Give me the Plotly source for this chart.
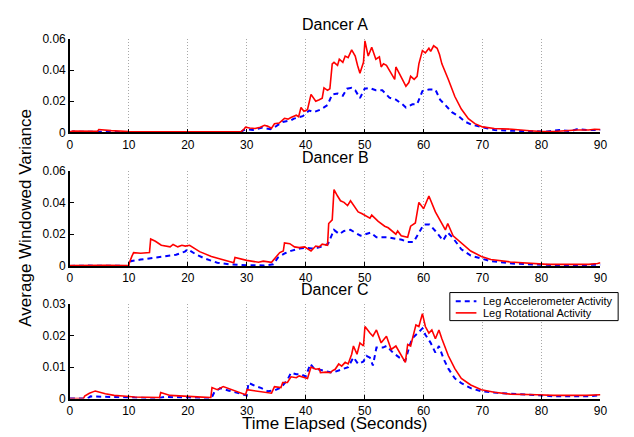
import plotly.graph_objects as go

# ---------------- data ----------------
a_red_t = [0, 0.5, 4.7, 4.9, 7, 10, 15, 20, 25, 29, 29.5, 29.8, 30.5, 31.4, 32.3, 33, 33.5, 34.2, 34.7, 35.5, 36.4, 37, 37.5, 38.4, 38.8, 39.2, 39.7, 40.3, 40.9, 41.7, 42.3, 42.8, 43.1, 43.7, 44.1, 44.5, 44.8, 45.4, 45.7, 46.3, 46.7, 47.2, 47.8, 48.4, 48.8, 49.2, 49.8, 50.05, 50.6, 51.2, 51.9, 52.5, 52.8, 53.2, 53.7, 54.2, 54.8, 55.1, 55.3, 55.9, 56.4, 57, 57.5, 57.8, 58.4, 58.9, 59.2, 59.8, 60.3, 60.9, 61.2, 61.7, 62.3, 62.7, 63.1, 64.2, 65.3, 66.4, 67.6, 68.7, 70, 72, 75, 78, 80, 82, 83, 84, 86, 88, 89, 90]
a_red_v = [0.0003, 0.0008, 0.0007, 0.0018, 0.0011, 0.0005, 0.0003, 0.0002, 0.0002, 0.0003, 0.002, 0.0033, 0.0028, 0.0025, 0.0033, 0.0045, 0.004, 0.0027, 0.0055, 0.006, 0.009, 0.0085, 0.0095, 0.011, 0.01, 0.016, 0.0135, 0.0145, 0.0244, 0.020, 0.021, 0.022, 0.0286, 0.027, 0.028, 0.044, 0.045, 0.043, 0.047, 0.045, 0.049, 0.048, 0.053, 0.049, 0.043, 0.038, 0.045, 0.0588, 0.049, 0.0546, 0.047, 0.0485, 0.042, 0.044, 0.043, 0.040, 0.036, 0.034, 0.042, 0.038, 0.034, 0.0296, 0.032, 0.036, 0.034, 0.036, 0.044, 0.0525, 0.051, 0.054, 0.052, 0.0556, 0.054, 0.050, 0.044, 0.034, 0.023, 0.015, 0.0088, 0.0056, 0.0035, 0.0025, 0.002, 0.001, 0.0005, 0.0005, 0.0008, 0.001, 0.0015, 0.0015, 0.002, 0.0018]

a_blue_t = [0, 0.5, 3, 5, 10, 20, 29, 29.5, 30, 31, 32.5, 34, 35, 36.1, 37.5, 38, 39.5, 40.6, 41.4, 42.5, 43.7, 44.5, 45.4, 46.3, 47, 47.8, 48.4, 49.2, 50, 50.8, 51.9, 53, 54.2, 55.3, 56.4, 57, 58.1, 58.9, 59.8, 60.9, 62, 62.8, 63.7, 64.8, 65.9, 67, 68.1, 69.2, 70, 72, 75, 80, 81, 83, 84, 85, 86, 88, 90]
a_blue_v = [0, 0.0005, 0.0004, 0.0003, 0.0001, 0, 0.0001, 0.0015, 0.002, 0.0015, 0.003, 0.002, 0.004, 0.0067, 0.0077, 0.0088, 0.0104, 0.014, 0.013, 0.0146, 0.0175, 0.0244, 0.025, 0.0235, 0.028, 0.0286, 0.027, 0.022, 0.028, 0.0285, 0.027, 0.027, 0.0223, 0.021, 0.018, 0.016, 0.018, 0.018, 0.0265, 0.0275, 0.0275, 0.021, 0.0175, 0.013, 0.0105, 0.0069, 0.005, 0.004, 0.003, 0.0015, 0.001, 0.0008, 0.0005, 0.0015, 0.001, 0.0008, 0.002, 0.0015, 0.0015]

b_red_t = [0, 3, 3.3, 6, 10, 10.05, 10.5, 10.8, 12, 13.5, 13.7, 14.5, 15.5, 16.5, 17, 17.5, 18.3, 19, 19.6, 20.3, 21, 22, 24, 26, 27.8, 28, 30, 32, 32.8, 34.2, 34.7, 35.6, 36.2, 36.4, 37.3, 38.1, 38.9, 39.8, 40.9, 41.7, 42.3, 42.8, 43.7, 43.9, 44.5, 44.8, 45.4, 45.9, 46.5, 47.1, 47.6, 48.2, 48.9, 49.5, 50, 50.9, 51.2, 52.3, 53.4, 54, 55.3, 55.6, 56.2, 57.3, 57.8, 58.6, 59.2, 60, 60.9, 62, 63.7, 64.1, 65, 66.4, 68, 69.8, 71.4, 74.7, 78, 81, 85, 88, 89.5, 90]
b_red_v = [0.0002, 0.0003, 0.0007, 0.0004, 0.0002, 0.0015, 0.006, 0.0084, 0.008, 0.0085, 0.017, 0.0155, 0.013, 0.0125, 0.012, 0.0135, 0.012, 0.013, 0.0125, 0.013, 0.0115, 0.009, 0.006, 0.004, 0.002, 0.0053, 0.0035, 0.0023, 0.003, 0.0023, 0.0043, 0.0084, 0.0094, 0.0145, 0.014, 0.012, 0.0115, 0.012, 0.0094, 0.0125, 0.012, 0.0137, 0.013, 0.0267, 0.029, 0.048, 0.044, 0.041, 0.040, 0.038, 0.041, 0.038, 0.034, 0.033, 0.032, 0.030, 0.032, 0.028, 0.025, 0.024, 0.020, 0.022, 0.019, 0.018, 0.025, 0.027, 0.040, 0.036, 0.044, 0.034, 0.0227, 0.0267, 0.019, 0.0145, 0.0094, 0.006, 0.004, 0.0025, 0.0015, 0.001, 0.001, 0.001, 0.0015, 0.002]

b_blue_t = [0, 3, 10, 10.3, 12, 14.3, 16.5, 18, 19.5, 20, 21.5, 23, 25, 27, 30, 33, 34.5, 35.3, 36.5, 37.5, 39, 40, 41, 42, 43, 43.8, 44.8, 45.7, 46.5, 47.6, 49.3, 50.4, 51, 52, 54, 55.4, 56.3, 57.3, 58.3, 59, 60, 61, 62, 63.3, 64.1, 65, 66.4, 68, 69.8, 71.4, 75, 80, 85, 90]
b_blue_v = [0, 0.0002, 0, 0.003, 0.004, 0.005, 0.006, 0.007, 0.009, 0.0105, 0.007, 0.0045, 0.002, 0.001, 0.0005, 0.0003, 0.001, 0.0053, 0.008, 0.0095, 0.011, 0.0115, 0.011, 0.0115, 0.0125, 0.014, 0.0227, 0.020, 0.022, 0.0227, 0.019, 0.0206, 0.021, 0.018, 0.018, 0.017, 0.0165, 0.015, 0.015, 0.0195, 0.026, 0.026, 0.022, 0.016, 0.021, 0.0175, 0.0105, 0.0065, 0.0045, 0.003, 0.0015, 0.0007, 0.0005, 0.0008]

c_red_t = [0, 2.3, 2.5, 3.3, 4, 4.3, 6, 7.5, 9, 11, 15.2, 15.4, 17, 20, 23.9, 24.1, 25, 26, 28, 29.8, 30.05, 31.4, 33, 34.2, 34.7, 35.8, 36.1, 36.9, 37.5, 38.4, 38.9, 39.8, 40.3, 40.9, 41.7, 42.3, 42.5, 43.4, 44.2, 44.5, 45, 45.6, 46.1, 46.7, 47.2, 47.8, 48.1, 48.7, 49.2, 49.8, 50.05, 50.9, 51.4, 52, 52.8, 53.7, 54.5, 55.3, 56.2, 56.9, 57.3, 57.8, 58.7, 59.2, 59.8, 60.3, 60.9, 61.4, 62, 62.6, 63.1, 64.2, 65.3, 66.4, 68, 69.8, 72, 74.7, 79.2, 82, 87.6, 90]
c_red_v = [0, 0, 0.0008, 0.0017, 0.0022, 0.0024, 0.0015, 0.001, 0.0008, 0.0005, 0.0003, 0.0019, 0.001, 0.0006, 0.0003, 0.0035, 0.0028, 0.0038, 0.0025, 0.0012, 0.0028, 0.0025, 0.002, 0.0017, 0.0038, 0.0035, 0.0051, 0.0051, 0.0069, 0.0066, 0.0072, 0.0067, 0.0064, 0.0100, 0.0093, 0.0095, 0.0082, 0.0084, 0.0082, 0.0088, 0.0093, 0.0110, 0.0103, 0.0115, 0.0110, 0.0141, 0.0167, 0.0141, 0.0177, 0.0167, 0.0229, 0.0208, 0.0198, 0.0218, 0.0177, 0.0198, 0.0156, 0.0167, 0.0136, 0.0115, 0.0172, 0.0167, 0.0234, 0.0229, 0.0270, 0.0229, 0.0208, 0.0218, 0.019, 0.0218, 0.019, 0.0136, 0.0095, 0.0064, 0.0043, 0.0028, 0.002, 0.0014, 0.0012, 0.001, 0.001, 0.0012]

c_blue_t = [0, 3, 3.5, 5, 8, 10, 15, 16, 20, 24, 24.5, 25.5, 27, 29, 30, 30.3, 31.4, 32.5, 33.6, 34.7, 35.8, 36.9, 37.5, 38.4, 39.2, 40, 40.8, 41.4, 42.3, 43.4, 44.5, 45.3, 46.4, 47.2, 48.1, 48.9, 49.8, 50.3, 50.9, 51.4, 52, 53.1, 53.7, 54.8, 55.9, 56.9, 57.6, 58.1, 59, 59.8, 60.3, 61.2, 62, 62.6, 63.4, 64.2, 65.3, 66.4, 68, 69.8, 72.5, 76.3, 79.6, 82.4, 87.6, 90]
c_blue_v = [0, 0, 0.0007, 0.0006, 0.0005, 0.0003, 0.0001, 0.0005, 0.0003, 0.0001, 0.002, 0.0033, 0.0025, 0.0015, 0.001, 0.005, 0.004, 0.0033, 0.0023, 0.0026, 0.0035, 0.0059, 0.0082, 0.0077, 0.0077, 0.007, 0.011, 0.0096, 0.0093, 0.0087, 0.0082, 0.0087, 0.0093, 0.0100, 0.0131, 0.0110, 0.0118, 0.0136, 0.013, 0.0105, 0.0162, 0.0162, 0.0167, 0.0146, 0.013, 0.012, 0.0167, 0.0192, 0.0208, 0.0223, 0.0203, 0.0177, 0.0146, 0.0167, 0.0126, 0.0095, 0.0064, 0.0049, 0.0033, 0.0023, 0.0018, 0.0014, 0.001, 0.0007, 0.0007, 0.001]

panel_titles = ["Dancer A", "Dancer B", "Dancer C"]
x_ticks = [0, 10, 20, 30, 40, 50, 60, 70, 80, 90]
y_ticks_ab = [0, 0.02, 0.04, 0.06]
y_ticklabels_ab = ["0", "0.02", "0.04", "0.06"]
y_ticks_c = [0, 0.01, 0.02, 0.03]
y_ticklabels_c = ["0", "0.01", "0.02", "0.03"]
name_blue = "Leg Accelerometer Activity"
name_red = "Leg Rotational Activity"

# ---------------- figure ----------------
W, H = 634, 437
FONT = "Liberation Sans, Arial, Helvetica, sans-serif"
BLUE = "#0000ff"
RED = "#ff0000"
BLUE_DASH = "5px,4px"

def py(p):
    return 1 - p / H

def px(p):
    return p / W

x_dom = [px(68), px(607)]
y_doms = [[py(129.5), py(33)], [py(267.5), py(169)], [py(404.5), py(307)]]

fig = go.Figure()
series = [(a_blue_t, a_blue_v, a_red_t, a_red_v),
          (b_blue_t, b_blue_v, b_red_t, b_red_v),
          (c_blue_t, c_blue_v, c_red_t, c_red_v)]

for i, (bt, bv, rt, rv) in enumerate(series):
    sfx = "" if i == 0 else str(i + 1)
    fig.add_trace(go.Scatter(x=bt, y=bv, mode="lines", name=name_blue,
                             line=dict(color=BLUE, width=2, dash=BLUE_DASH),
                             xaxis="x" + sfx, yaxis="y" + sfx,
                             showlegend=False))
    fig.add_trace(go.Scatter(x=rt, y=rv, mode="lines", name=name_red,
                             line=dict(color=RED, width=1.6),
                             xaxis="x" + sfx, yaxis="y" + sfx,
                             showlegend=False))

layout = dict(
    width=W, height=H,
    margin=dict(l=0, r=0, t=0, b=0),
    paper_bgcolor="white", plot_bgcolor="white",
    font=dict(family=FONT, color="black", size=12),
    showlegend=False,
    annotations=[],
    shapes=[],
)

for i in range(3):
    sfx = "" if i == 0 else str(i + 1)
    xa = dict(domain=x_dom, range=[0, 90], tickvals=x_ticks,
              ticktext=[str(v) for v in x_ticks],
              showline=True, linecolor="black", linewidth=1.5,
              ticks="inside", ticklen=4, tickcolor="black", tickwidth=1,
              showgrid=True, gridcolor="#a8a8a8", griddash="1px,2px", gridwidth=0.8,
              zeroline=False, anchor="y" + sfx,
              tickfont=dict(size=12, family=FONT, color="black"))
    if i == 2:
        yt, ytl, yr = y_ticks_c, y_ticklabels_c, [0, 0.03]
    else:
        yt, ytl, yr = y_ticks_ab, y_ticklabels_ab, [0, 0.06]
    ya = dict(domain=y_doms[i], range=yr, tickvals=yt, ticktext=ytl,
              showline=True, linecolor="black", linewidth=1.5,
              ticks="inside", ticklen=4, tickcolor="black", tickwidth=1,
              showgrid=False, zeroline=False, anchor="x" + sfx,
              tickfont=dict(size=12, family=FONT, color="black"))
    layout["xaxis" + sfx] = xa
    layout["yaxis" + sfx] = ya

title_y = [18, 155, 292]
for i, t in enumerate(panel_titles):
    layout["annotations"].append(dict(
        text=t, x=px(337.5), y=py(title_y[i]), xref="paper", yref="paper",
        xanchor="center", yanchor="middle", showarrow=False,
        font=dict(size=16, family=FONT, color="black")))

layout["annotations"].append(dict(
    text="Time Elapsed (Seconds)", x=px(337.5), y=py(430.5), xref="paper", yref="paper",
    xanchor="center", yanchor="middle", showarrow=False, borderpad=0,
    font=dict(size=17, family=FONT, color="black")))
layout["annotations"].append(dict(
    text="Average Windowed Variance", x=px(22), y=py(218), xref="paper", yref="paper",
    xanchor="center", yanchor="middle", showarrow=False, textangle=-90,
    font=dict(size=17, family=FONT, color="black")))

# compact legend box (drawn in the style of the original legend)
layout["shapes"].append(dict(type="rect", xref="paper", yref="paper",
                             x0=px(454), x1=px(625), y0=py(324), y1=py(295),
                             line=dict(color="black", width=1), fillcolor="white",
                             layer="above"))
legend_rows = [(name_blue, BLUE, 2, BLUE_DASH, 304), (name_red, RED, 1.6, "solid", 316)]
for name, col, wdt, dsh, yy in legend_rows:
    layout["shapes"].append(dict(type="line", xref="paper", yref="paper",
                                 x0=px(460), x1=px(481), y0=py(yy), y1=py(yy),
                                 line=dict(color=col, width=wdt, dash=dsh),
                                 layer="above"))
    layout["annotations"].append(dict(
        text=name, x=px(486), y=py(yy), xref="paper", yref="paper",
        xanchor="left", yanchor="middle", showarrow=False,
        font=dict(size=11, family=FONT, color="black")))

fig.update_layout(**layout)
fig.write_html("out.html")
